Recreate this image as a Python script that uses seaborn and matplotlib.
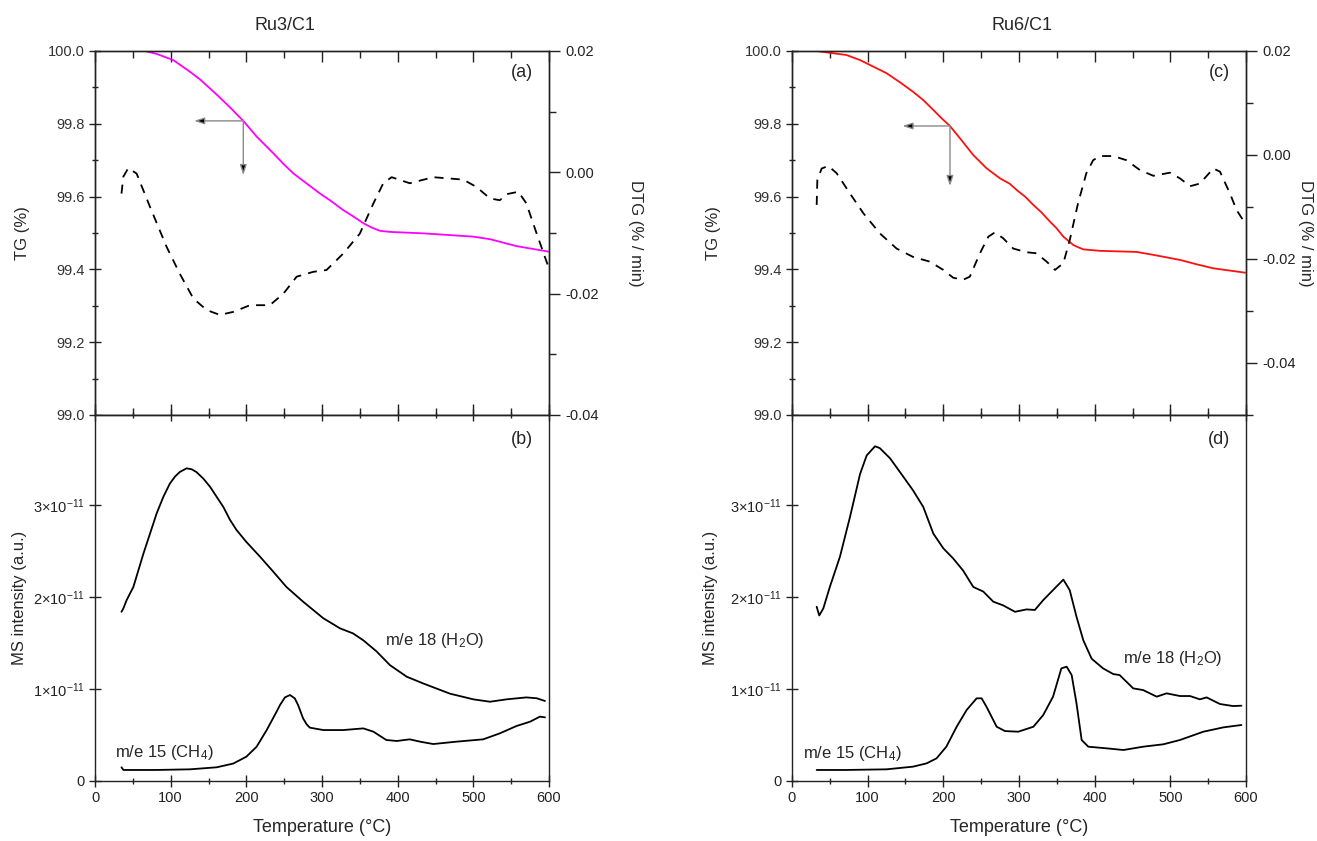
import numpy as np
import pandas as pd
import matplotlib
matplotlib.use("Agg")
import matplotlib.pyplot as plt
from matplotlib.ticker import MultipleLocator, FixedLocator, FuncFormatter
import seaborn as sns

sns.set_style("ticks")
plt.rcParams['font.family'] = ['Liberation Sans', 'DejaVu Sans']
plt.rcParams['mathtext.fontset'] = 'custom'
plt.rcParams['mathtext.rm'] = 'Liberation Sans'
plt.rcParams['mathtext.it'] = 'Liberation Sans:italic'
plt.rcParams['mathtext.bf'] = 'Liberation Sans:bold'
plt.rcParams['axes.unicode_minus'] = False

# ---------------- data: Ru3/C1 ----------------
tg_a_T = [35, 66, 81.5, 103.5, 125.5, 138.8, 161, 178, 196, 213.6, 235.7, 249, 262, 279.7, 297, 310.5,
          328, 341, 354.6, 365.6, 376.6, 390, 434, 500, 522, 557, 599]
tg_a_v = [100.0, 100.0, 99.992, 99.975, 99.943, 99.922, 99.880, 99.846, 99.808, 99.765, 99.719, 99.69,
          99.664, 99.636, 99.609, 99.59, 99.563, 99.546, 99.527, 99.515, 99.506, 99.503,
          99.499, 99.49, 99.483, 99.464, 99.449]

dtg_a_T = [35, 37.5, 44, 55, 72.7, 94.7, 112, 130, 147.6, 165, 182.8, 204.8, 231, 249, 266.5, 288.5,
           306, 328, 350, 368, 381, 392, 416, 447, 486.7, 504, 522, 535, 544, 559.5, 570, 583.7, 599]
dtg_a_v = [-0.0035, -0.0007, 0.0007, -0.0002, -0.0057, -0.0123, -0.0167, -0.0208, -0.0227, -0.0235,
           -0.0230, -0.0219, -0.0219, -0.0200, -0.0172, -0.0164, -0.0161, -0.0134, -0.0101, -0.0051,
           -0.0018, -0.0008, -0.0018, -0.0008, -0.0012, -0.0024, -0.0043, -0.0046, -0.0036, -0.0032,
           -0.0051, -0.0101, -0.0155]

h2o_b_T = [35, 37.5, 41.8, 50.7, 63.9, 72.7, 81.5, 90.3, 99, 105.7, 112, 121, 127.7, 134, 143, 152,
           160.8, 169.6, 178.4, 187, 200, 218, 235.7, 253, 275, 301.7, 323.8, 341, 354.6, 372, 389.8,
           412, 434, 469, 500, 522, 544, 570, 583.7, 594.7]
h2o_b_v = [1.84, 1.877, 1.967, 2.11, 2.47, 2.69, 2.91, 3.09, 3.235, 3.31, 3.36, 3.40, 3.39, 3.36, 3.29,
           3.20, 3.09, 2.98, 2.84, 2.73, 2.60, 2.44, 2.275, 2.11, 1.95, 1.77, 1.66, 1.605, 1.53, 1.41,
           1.26, 1.134, 1.06, 0.95, 0.888, 0.862, 0.888, 0.909, 0.90, 0.87]   # x 1e-11

ch4_b_T = [35, 37.5, 81.5, 125.5, 160.8, 182.8, 200, 213.6, 226.9, 240, 244.5, 251, 257.7, 264, 268.4,
           275, 279.7, 284, 301.7, 328, 354.6, 368, 385, 398.6, 416, 429.5, 447, 478, 513, 535, 557,
           575, 588, 594.7]
ch4_b_v = [0.149, 0.12, 0.12, 0.127, 0.149, 0.19, 0.264, 0.373, 0.554, 0.754, 0.826, 0.909, 0.935,
           0.899, 0.826, 0.681, 0.616, 0.58, 0.554, 0.554, 0.572, 0.536, 0.446, 0.435, 0.453, 0.428,
           0.402, 0.428, 0.453, 0.518, 0.598, 0.645, 0.70, 0.692]   # x 1e-11

# ---------------- data: Ru6/C1 ----------------
tg_c_T = [32.6, 50, 72, 90, 107.5, 125, 142.7, 160, 173.6, 186.8, 197.8, 208.8, 224, 239.6, 248.4, 257,
          275, 288, 297, 308, 319, 330, 341, 349.7, 358.6, 371.8, 378, 385, 407, 455.5, 477.5, 512.8,
          534.8, 556.8, 574.4, 598.7]
tg_c_v = [100.0, 99.995, 99.989, 99.975, 99.957, 99.939, 99.914, 99.888, 99.865, 99.838, 99.815,
          99.794, 99.755, 99.714, 99.696, 99.678, 99.65, 99.635, 99.618, 99.6, 99.577, 99.556, 99.531,
          99.513, 99.49, 99.467, 99.461, 99.455, 99.451, 99.448, 99.44, 99.426, 99.414, 99.403,
          99.398, 99.391]

dtg_c_T = [32.6, 33.5, 39.2, 48, 59, 76.6, 94.3, 116.3, 138.3, 160, 182, 200, 213, 226, 235, 248.4,
           259.5, 268, 279, 292.5, 310, 323, 336.5, 347.6, 358.6, 367, 378, 389, 398, 407, 424.6,
           442, 459.8, 477.5, 499.5, 512.8, 526, 539, 556.8, 565.6, 578.8, 587.6, 598.7]
dtg_c_v = [-0.0096, -0.0048, -0.0026, -0.0021, -0.0035, -0.0074, -0.0112, -0.0151, -0.0180, -0.0196,
           -0.0205, -0.0221, -0.0236, -0.0240, -0.0234, -0.0189, -0.0157, -0.0149, -0.0160, -0.0180,
           -0.0187, -0.0189, -0.0205, -0.0221, -0.0208, -0.0164, -0.0093, -0.0035, -0.0010, -0.0002,
           -0.0002, -0.0010, -0.0029, -0.0040, -0.0034, -0.0045, -0.0060, -0.0055, -0.0026, -0.0032,
           -0.0074, -0.0106, -0.0131]

h2o_d_T = [32.6, 36, 41.4, 50, 63.4, 76.6, 90, 98.7, 109.7, 116, 129.5, 147, 160, 173.5, 186.8, 200,
           213, 226, 239.6, 252.8, 266, 279, 294.7, 310, 321, 332, 345, 358.6, 367, 376, 385, 396,
           411, 424.6, 433, 451, 464, 482, 495, 512.8, 526, 539, 548, 565.6, 583, 594]
h2o_d_v = [1.895, 1.80, 1.877, 2.11, 2.44, 2.87, 3.34, 3.54, 3.64, 3.62, 3.51, 3.31, 3.16, 2.98, 2.69,
           2.53, 2.42, 2.29, 2.11, 2.06, 1.95, 1.91, 1.84, 1.866, 1.86, 1.967, 2.076, 2.19, 2.076,
           1.786, 1.53, 1.33, 1.225, 1.163, 1.152, 1.007, 0.989, 0.917, 0.953, 0.924, 0.924, 0.888,
           0.909, 0.837, 0.815, 0.819]   # x 1e-11

ch4_d_T = [32.6, 72, 125, 160, 178, 191, 204, 217.6, 230.8, 244, 250.6, 257, 270.5, 281.5, 299, 319,
           332, 345, 356, 363, 369.6, 376, 382.8, 391.6, 416, 438, 464, 490.7, 512.8, 543.6, 570, 594]
ch4_d_v = [0.12, 0.12, 0.127, 0.156, 0.192, 0.246, 0.373, 0.59, 0.772, 0.899, 0.899, 0.808, 0.59,
           0.543, 0.536, 0.59, 0.717, 0.917, 1.225, 1.243, 1.152, 0.844, 0.446, 0.373, 0.355, 0.337,
           0.373, 0.399, 0.446, 0.536, 0.583, 0.609]   # x 1e-11

ms_ticks = [0, 1, 2, 3]
titles = ["Ru3/C1", "Ru6/C1"]
panel_tags = [("(a)", "(b)"), ("(c)", "(d)")]

# ---------------- figure ----------------
W, H = 1317, 841
fig = plt.figure(figsize=(W / 100, H / 100), dpi=100)

cols = [
    dict(left=95, tgT=tg_a_T, tgV=tg_a_v, tgc='#FF00FF', dT=dtg_a_T, dV=dtg_a_v, dlim=(-0.04, 0.02),
         hT=h2o_b_T, hV=h2o_b_v, cT=ch4_b_T, cV=ch4_b_v,
         arrow=(196, 99.808, 131, 99.659),
         hlab=(383, 1.53), clab=(26, 0.315), title_x=285, ylab_x=30, dtg_lab_x=635),
    dict(left=792, tgT=tg_c_T, tgV=tg_c_v, tgc='#FF1010', dT=dtg_c_T, dV=dtg_c_v, dlim=(-0.05, 0.02),
         hT=h2o_d_T, hV=h2o_d_v, cT=ch4_d_T, cV=ch4_d_v,
         arrow=(208.8, 99.794, 146, 99.629),
         hlab=(437, 1.33), clab=(15, 0.30), title_x=1022, ylab_x=721, dtg_lab_x=1305),
]

wid = 454 / W
tick_col = '#222222'
lab_fs = 12
tick_fs = 10.5

def ms_fmt(v, pos):
    n = int(round(v / 1e-11))
    if n == 0:
        return "0"
    return r"$%d{\times}10^{-11}$" % n

for i, c in enumerate(cols):
    lx = c['left'] / W
    ax_t = fig.add_axes([lx, 1 - 415 / H, wid, 364 / H])
    ax_b = fig.add_axes([lx, 1 - 781 / H, wid, 366 / H])

    # ---- top: TG + DTG ----
    sns.lineplot(x=c['tgT'], y=c['tgV'], ax=ax_t, color=c['tgc'], lw=1.3, sort=False, estimator=None)
    ax_t.set_xlim(0, 600)
    ax_t.set_ylim(99.0, 100.0)
    ax_t.yaxis.set_major_locator(MultipleLocator(0.2))
    ax_t.yaxis.set_minor_locator(MultipleLocator(0.1))
    ax_t.yaxis.set_major_formatter(FuncFormatter(lambda v, p: "%.1f" % v))
    ax_t.xaxis.set_major_locator(MultipleLocator(100))
    ax_t.xaxis.set_minor_locator(MultipleLocator(50))
    ax_t.tick_params(axis='x', which='both', direction='in', top=True, bottom=True, labelbottom=False)
    ax_t.tick_params(axis='y', which='both', direction='inout', left=True, right=False)
    ax_t.tick_params(which='major', length=8, width=1, labelsize=tick_fs, labelcolor='#333333', color=tick_col)
    ax_t.tick_params(which='minor', length=5, width=1, color=tick_col)
    ax_t.set_ylabel("TG (%)", fontsize=lab_fs)
    ax_t.yaxis.set_label_coords((c['ylab_x'] - c['left']) / 454, 0.5)
    ax_t.set_xlabel("")

    ax2 = ax_t.twinx()
    sns.lineplot(x=c['dT'], y=c['dV'], ax=ax2, color='black', lw=1.3, sort=False, estimator=None)
    ax2.lines[-1].set_linestyle((0, (5, 4)))
    ax2.set_ylim(*c['dlim'])
    ax2.yaxis.set_major_locator(MultipleLocator(0.02))
    ax2.yaxis.set_minor_locator(MultipleLocator(0.01))
    ax2.yaxis.set_major_formatter(FuncFormatter(lambda v, p: "%.2f" % v))
    ax2.tick_params(axis='y', which='both', direction='out', right=True, left=False)
    ax2.tick_params(which='major', length=8, width=1, labelsize=tick_fs, labelcolor='#222222', color=tick_col)
    ax2.tick_params(which='minor', length=5, width=1, color=tick_col)
    ax2.set_ylabel("DTG (% / min)", fontsize=lab_fs, rotation=270, va='center')
    ax2.yaxis.set_label_coords((c['dtg_lab_x'] - c['left']) / 454, 0.5)

    x0, y0, x1, y1 = c['arrow']
    ap = dict(arrowstyle='-|>,head_length=0.6,head_width=0.2', ec='#8a8a8a', fc='black',
              lw=1.0, shrinkA=0, shrinkB=0)
    ax_t.annotate("", xy=(x1, y0), xytext=(x0, y0), arrowprops=ap)
    ax_t.annotate("", xy=(x0, y1), xytext=(x0, y0), arrowprops=ap)
    ax_t.text(0.965, 0.94, panel_tags[i][0], transform=ax_t.transAxes, ha='right', va='center',
              fontsize=13)

    # ---- bottom: MS ----
    sns.lineplot(x=c['hT'], y=np.array(c['hV']) * 1e-11, ax=ax_b, color='black', lw=1.3,
                 sort=False, estimator=None)
    sns.lineplot(x=c['cT'], y=np.array(c['cV']) * 1e-11, ax=ax_b, color='black', lw=1.3,
                 sort=False, estimator=None)
    ax_b.set_xlim(0, 600)
    ax_b.set_ylim(0, 3.98e-11)
    ax_b.yaxis.set_major_locator(FixedLocator([t * 1e-11 for t in ms_ticks]))
    ax_b.yaxis.set_major_formatter(FuncFormatter(ms_fmt))
    ax_b.xaxis.set_major_locator(MultipleLocator(100))
    ax_b.xaxis.set_minor_locator(MultipleLocator(50))
    ax_b.tick_params(axis='x', which='both', direction='inout', top=True, bottom=True)
    ax_b.tick_params(axis='y', which='both', direction='inout', left=True, right=False)
    ax_b.tick_params(which='major', length=8, width=1, labelsize=tick_fs, labelcolor='#222222', color=tick_col)
    ax_b.tick_params(which='minor', length=5, width=1, color=tick_col)
    ax_b.set_xlabel("Temperature (\u00b0C)", fontsize=lab_fs + 1, labelpad=10)
    ax_b.set_ylabel("MS intensity (a.u.)", fontsize=lab_fs)
    ax_b.yaxis.set_label_coords((c['ylab_x'] - 3 - c['left']) / 454, 0.5)
    ax_b.text(0.965, 0.932, panel_tags[i][1], transform=ax_b.transAxes, ha='right', va='center',
              fontsize=13)
    ax_b.text(c['hlab'][0], c['hlab'][1] * 1e-11, r"m/e 18 (H$_2$O)", fontsize=12, ha='left', va='center')
    ax_b.text(c['clab'][0], c['clab'][1] * 1e-11, r"m/e 15 (CH$_4$)", fontsize=12, ha='left', va='center')

    for a in (ax_t, ax_b, ax2):
        for s in a.spines.values():
            s.set_color(tick_col)
            s.set_linewidth(1.0)

    fig.text(c['title_x'] / W, 1 - 26 / H, titles[i], ha='center', va='center', fontsize=13)

fig.savefig("out.png", dpi=100)
